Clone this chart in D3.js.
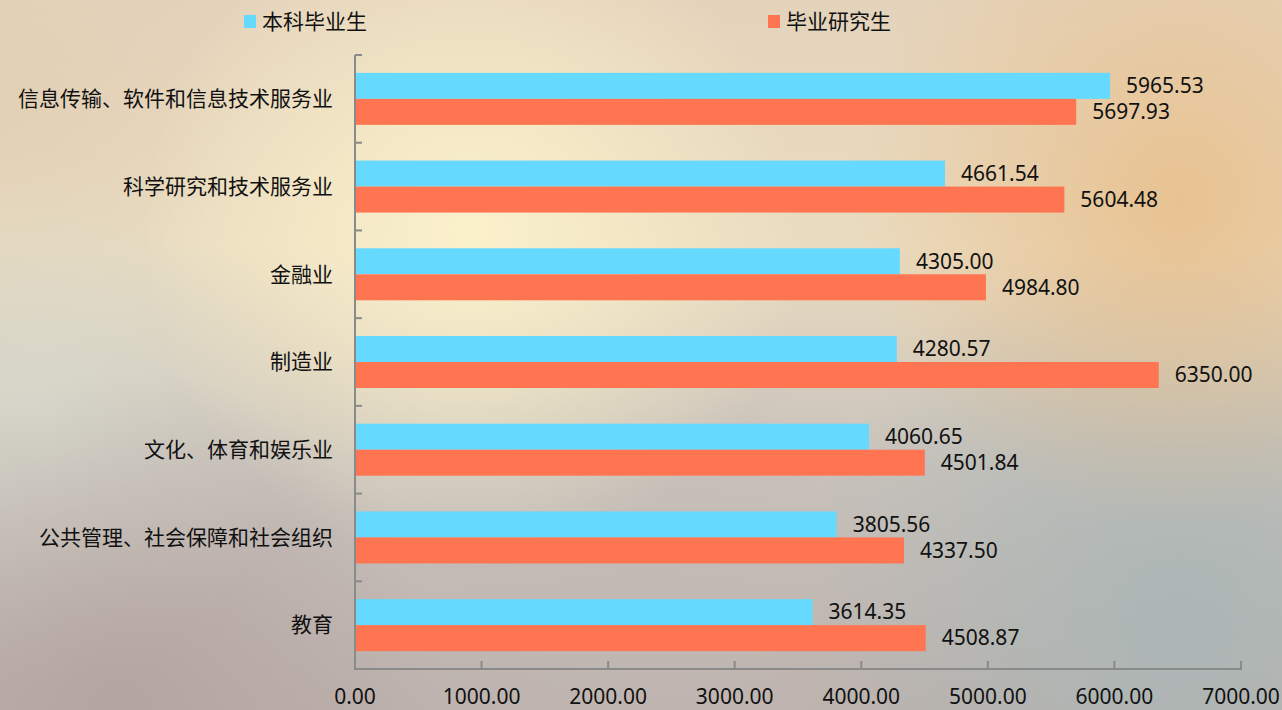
<!DOCTYPE html>
<html>
<head>
<meta charset="utf-8">
<script src="https://cdn.jsdelivr.net/npm/d3@7"></script>
<style>
  html, body { margin: 0; padding: 0; overflow: hidden; }
  svg { display: block; font-family: "Noto Sans CJK SC", "Noto Sans", sans-serif; }
  .num { font-family: "Noto Sans", "Noto Sans CJK SC", sans-serif; }
</style>
</head>
<body>
<svg width="1282" height="710"></svg>
<script>
// data
var categories = ["信息传输、软件和信息技术服务业", "科学研究和技术服务业", "金融业", "制造业",
    "文化、体育和娱乐业", "公共管理、社会保障和社会组织", "教育"];
var undergrad = [5965.53, 4661.54, 4305.00, 4280.57, 4060.65, 3805.56, 3614.35];
var graduate = [5697.93, 5604.48, 4984.80, 6350.00, 4501.84, 4337.50, 4508.87];
var seriesNames = ["本科毕业生", "毕业研究生"];
var xTicks = [0, 1000, 2000, 3000, 4000, 5000, 6000, 7000];

var colors = ["#66d9ff", "#ff7552"];

var svg = d3.select("svg");
var defs = svg.append("defs");

// blurry photo-like background
function radial(id, cx, cy, r, color, op) {
    var g = defs.append("radialGradient").attr("id", id)
        .attr("gradientUnits", "userSpaceOnUse")
        .attr("cx", cx).attr("cy", cy).attr("r", r);
    g.append("stop").attr("offset", 0).attr("stop-color", color).attr("stop-opacity", op);
    g.append("stop").attr("offset", 1).attr("stop-color", color).attr("stop-opacity", 0);
}
var lin = defs.append("linearGradient").attr("id", "bg")
    .attr("x1", 0).attr("y1", 0).attr("x2", 0).attr("y2", 1);
lin.append("stop").attr("offset", 0).attr("stop-color", "#e4d3bb");
lin.append("stop").attr("offset", 0.35).attr("stop-color", "#eadcc0");
lin.append("stop").attr("offset", 0.65).attr("stop-color", "#c9c3bc");
lin.append("stop").attr("offset", 1).attr("stop-color", "#bdb2ad");

radial("r1", 470, 230, 330, "#fbf1cb", 1);
radial("r2", 1180, 200, 330, "#e8bf8c", 0.9);
radial("r3", 40, 420, 260, "#d9dccf", 0.8);
radial("r4", 120, 700, 330, "#b2a19f", 0.8);
radial("r5", 1180, 620, 380, "#a9b6b6", 0.9);
radial("r6", 650, 640, 300, "#c2b8b3", 0.6);
radial("r7", 0, 100, 250, "#e0cdb2", 0.7);

svg.append("rect").attr("width", 1282).attr("height", 710).attr("fill", "url(#bg)");
["r7", "r3", "r4", "r6", "r5", "r2", "r1"].forEach(function (id) {
    svg.append("rect").attr("width", 1282).attr("height", 710).attr("fill", "url(#" + id + ")");
});

// scales
var x = d3.scaleLinear().domain([0, 7000]).range([355, 1241]);
var y = d3.scaleBand().domain(categories).range([55, 669]).paddingInner(0).paddingOuter(0);
var barH = 26;

// axes
var axisColor = "#8a8a8a";
svg.append("line").attr("x1", x(0)).attr("x2", x(0)).attr("y1", 55).attr("y2", 669)
    .attr("stroke", axisColor).attr("stroke-width", 2);
svg.append("line").attr("x1", x(0) - 1).attr("x2", x(7000) + 1).attr("y1", 669).attr("y2", 669)
    .attr("stroke", axisColor).attr("stroke-width", 2);

var yBounds = categories.map(function (c) { return y(c); });
svg.selectAll("line.ytick").data(yBounds).enter().append("line")
    .attr("class", "ytick")
    .attr("x1", x(0)).attr("x2", x(0) + 7)
    .attr("y1", function (d) { return d; }).attr("y2", function (d) { return d; })
    .attr("stroke", axisColor).attr("stroke-width", 2);

svg.selectAll("line.xtick").data(xTicks.slice(1)).enter().append("line")
    .attr("class", "xtick")
    .attr("x1", function (d) { return x(d); }).attr("x2", function (d) { return x(d); })
    .attr("y1", 669).attr("y2", 661)
    .attr("stroke", axisColor).attr("stroke-width", 2);

svg.selectAll("text.xlabel").data(xTicks).enter().append("text")
    .attr("class", "xlabel num")
    .attr("x", function (d) { return x(d); })
    .attr("y", 704)
    .attr("text-anchor", "middle")
    .attr("font-size", 21)
    .attr("fill", "#111")
    .text(function (d) { return d3.format(".2f")(d); });

svg.selectAll("text.ylabel").data(categories).enter().append("text")
    .attr("class", "ylabel")
    .attr("x", 333)
    .attr("y", function (d) { return y(d) + y.bandwidth() / 2; })
    .attr("dy", "0.35em")
    .attr("text-anchor", "end")
    .attr("font-size", 21)
    .attr("fill", "#111")
    .text(function (d) { return d; });

// bars
var series = [undergrad, graduate];
series.forEach(function (vals, s) {
    var top = function (i) { return y(categories[i]) + y.bandwidth() / 2 - barH + s * barH; };
    svg.selectAll("rect.bar" + s).data(vals).enter().append("rect")
        .attr("class", "bar" + s)
        .attr("x", x(0) + 1)
        .attr("y", function (d, i) { return top(i); })
        .attr("width", function (d) { return x(d) - x(0) - 1; })
        .attr("height", barH)
        .attr("fill", colors[s]);
    svg.selectAll("text.val" + s).data(vals).enter().append("text")
        .attr("class", "val" + s + " num")
        .attr("x", function (d) { return x(d) + 16; })
        .attr("y", function (d, i) { return top(i) + barH / 2; })
        .attr("dy", "0.35em")
        .attr("font-size", 21)
        .attr("fill", "#111")
        .text(function (d) { return d3.format(".2f")(d); });
});

// legend
var legendX = [244, 768];
seriesNames.forEach(function (name, s) {
    svg.append("rect").attr("x", legendX[s]).attr("y", 15).attr("width", 12).attr("height", 13)
        .attr("fill", colors[s]);
    svg.append("text").attr("x", legendX[s] + 18).attr("y", 22).attr("dy", "0.35em")
        .attr("font-size", 21).attr("fill", "#111").text(name);
});
</script>
</body>
</html>
